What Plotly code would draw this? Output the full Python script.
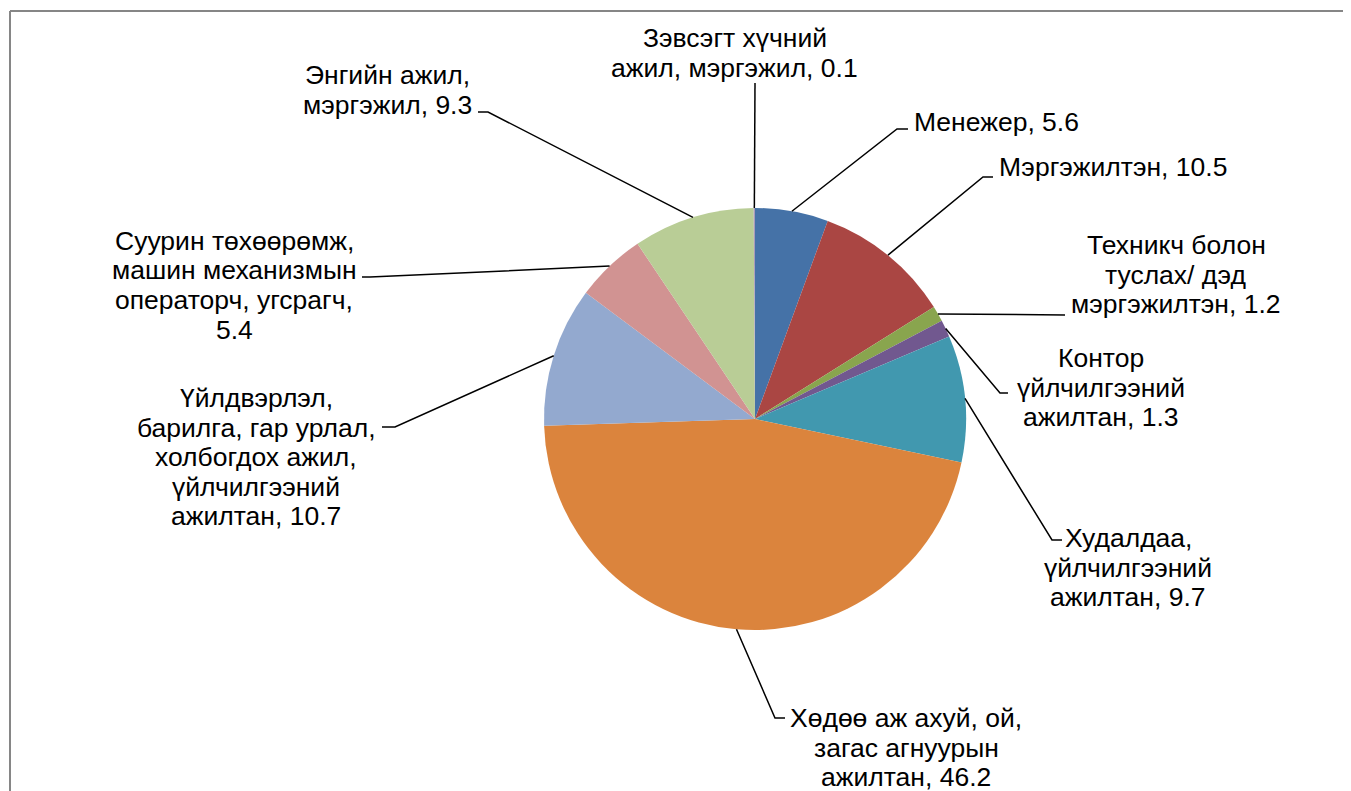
import math
import plotly.graph_objects as go

# page body has an 8px margin; the figure is placed at (8, 8) in the window
OX, OY = 8, 8
WF, HF = 1343, 783

# ---- data ----
categories = [
    "Менежер",
    "Мэргэжилтэн",
    "Техникч болон туслах/ дэд мэргэжилтэн",
    "Контор үйлчилгээний ажилтан",
    "Худалдаа, үйлчилгээний ажилтан",
    "Хөдөө аж ахуй, ой, загас агнуурын ажилтан",
    "Үйлдвэрлэл, барилга, гар урлал, холбогдох ажил, үйлчилгээний ажилтан",
    "Суурин төхөөрөмж, машин механизмын операторч, угсрагч",
    "Энгийн ажил, мэргэжил",
    "Зэвсэгт хүчний ажил, мэргэжил",
]
values = [5.6, 10.5, 1.2, 1.3, 9.7, 46.2, 10.7, 5.4, 9.3, 0.1]
label_lines = [
    ["Менежер, 5.6"],
    ["Мэргэжилтэн, 10.5"],
    ["Техникч болон", "туслах/ дэд", "мэргэжилтэн, 1.2"],
    ["Контор", "үйлчилгээний", "ажилтан, 1.3"],
    ["Худалдаа,", "үйлчилгээний", "ажилтан, 9.7"],
    ["Хөдөө аж ахуй, ой,", "загас агнуурын", "ажилтан, 46.2"],
    ["Үйлдвэрлэл,", "барилга, гар урлал,", "холбогдох ажил,", "үйлчилгээний", "ажилтан, 10.7"],
    ["Суурин төхөөрөмж,", "машин механизмын", "операторч, угсрагч,", "5.4"],
    ["Энгийн ажил,", "мэргэжил, 9.3"],
    ["Зэвсэгт хүчний", "ажил, мэргэжил, 0.1"],
]
colors = ["#4572A7", "#AA4643", "#89A54E", "#71588F", "#4198AF",
          "#DB843D", "#93A9CF", "#D19392", "#B9CD96", "#A99BBD"]

# ---- layout constants (window pixel positions) ----
CX, CY, R = 755, 419, 211
LINE_H = 29.5
FONT = dict(family="Liberation Sans, Arial, sans-serif", size=26.5, color="#000000")
# (text x, first line y, xanchor, leader elbow points)
label_pos = [
    (912, 122, "left", [(897, 129), (908, 129)]),
    (997, 167, "left", [(983, 177), (993, 177)]),
    (1176, 245, "center", [(1065, 315)]),
    (1101, 358, "center", [(1000, 393), (1008, 393)]),
    (1128, 538, "center", [(1052, 540), (1062, 540)]),
    (906, 718, "center", [(775, 718), (785, 718)]),
    (256, 398, "center", [(395, 427), (382, 427)]),
    (234, 241, "center", [(370, 277), (362, 277)]),
    (387, 75, "center", [(488, 112), (478, 112)]),
    (735, 38, "center", [(755, 83)]),
]

def px(x):
    return (x - OX) / WF

def py(y):
    return 1 - (y - OY) / HF

fig = go.Figure(go.Pie(
    labels=categories,
    values=values,
    sort=False,
    direction="clockwise",
    rotation=0,
    marker=dict(colors=colors, line=dict(width=0)),
    textinfo="none",
    hoverinfo="label+value",
    showlegend=False,
    domain=dict(x=[px(CX - R), px(CX + R)], y=[py(CY + R), py(CY - R)]),
))

shapes = []
annotations = []
total = sum(values)
cum = 0.0
for v, lines, (tx, ty, xa, pts) in zip(values, label_lines, label_pos):
    theta = math.radians((cum + v / 2) / total * 360)
    cum += v
    ex = CX + R * math.sin(theta)
    ey = CY - R * math.cos(theta)
    path_pts = [(ex, ey)] + pts
    path = "M " + " L ".join(f"{px(x):.5f},{py(y):.5f}" for x, y in path_pts)
    shapes.append(dict(type="path", xref="paper", yref="paper", path=path,
                       line=dict(color="#000000", width=1.5)))
    for i, t in enumerate(lines):
        annotations.append(dict(
            text=t, x=px(tx), y=py(ty + i * LINE_H), xref="paper", yref="paper",
            xanchor=xa, yanchor="middle", showarrow=False, font=FONT,
        ))

# chart-area border (extends beyond the visible window on right/bottom)
shapes.append(dict(type="line", xref="paper", yref="paper",
                   x0=px(10), y0=py(11), x1=1.0, y1=py(11),
                   line=dict(color="#868686", width=2)))
shapes.append(dict(type="line", xref="paper", yref="paper",
                   x0=px(10), y0=py(11), x1=px(10), y1=0.0,
                   line=dict(color="#868686", width=2)))

fig.update_layout(
    width=WF, height=HF,
    margin=dict(l=0, r=0, t=0, b=0),
    paper_bgcolor="white", plot_bgcolor="white",
    shapes=shapes, annotations=annotations,
    showlegend=False,
)
fig.write_html("out.html")
